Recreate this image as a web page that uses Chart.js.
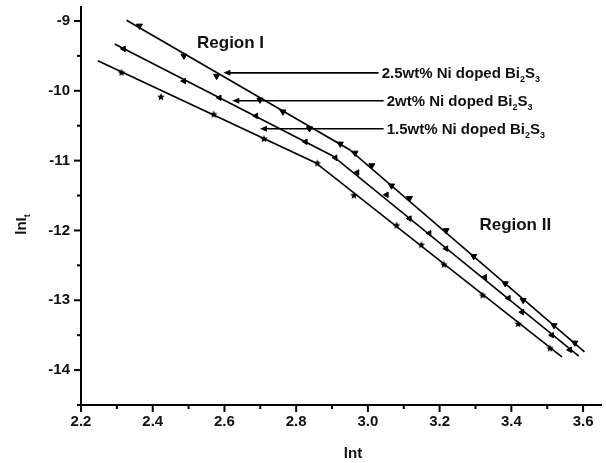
<!DOCTYPE html>
<html>
<head>
<meta charset="utf-8">
<script src="https://cdn.jsdelivr.net/npm/chart.js@4.4.1/dist/chart.umd.min.js"></script>
<style>
  html, body { margin: 0; padding: 0; background: #fff; }
  #wrap { position: relative; width: 606px; height: 463px; }
</style>
</head>
<body>
<div id="wrap"><canvas id="chart"></canvas></div>
<script>
// ── Data ─────────────────────────────────────────────────────
const seriesNames = ['2.5wt% Ni doped Bi2S3', '2wt% Ni doped Bi2S3', '1.5wt% Ni doped Bi2S3'];

// measured points
const x25 = [2.363, 2.487, 2.578, 2.699, 2.763, 2.837, 2.923, 2.964, 3.011, 3.066, 3.116, 3.218, 3.295, 3.383, 3.433, 3.519, 3.577];
const y25 = [-9.07, -9.50, -9.79, -10.13, -10.30, -10.54, -10.76, -10.89, -11.07, -11.36, -11.54, -12.00, -12.37, -12.76, -13.00, -13.36, -13.61];
const x20 = [2.319, 2.487, 2.586, 2.688, 2.826, 2.909, 2.970, 3.052, 3.116, 3.171, 3.218, 3.326, 3.392, 3.430, 3.513, 3.563];
const y20 = [-9.40, -9.86, -10.10, -10.36, -10.73, -10.96, -11.17, -11.49, -11.83, -12.04, -12.26, -12.67, -12.97, -13.17, -13.50, -13.71];
const x15 = [2.313, 2.423, 2.570, 2.710, 2.859, 2.961, 3.080, 3.149, 3.212, 3.320, 3.419, 3.508];
const y15 = [-9.74, -10.09, -10.34, -10.69, -11.04, -11.50, -11.93, -12.21, -12.49, -12.93, -13.34, -13.69];

// two-region linear fits (start, break, end)
const fit25x = [2.327, 2.948, 3.604];
const fit25y = [-8.99, -10.84, -13.74];
const fit20x = [2.294, 2.901, 3.588];
const fit20y = [-9.33, -10.93, -13.80];
const fit15x = [2.247, 2.854, 3.541];
const fit15y = [-9.57, -11.03, -13.81];

// axes
const xTicks = [2.2, 2.4, 2.6, 2.8, 3.0, 3.2, 3.4, 3.6];
const yTicks = [-14, -13, -12, -11, -10, -9];

// label arrows: [tip x, tail x, y] in data units
const arrows = [
  [2.597, 3.030, -9.743],
  [2.622, 3.044, -10.143],
  [2.699, 3.044, -10.543],
];
// [text, centre x, baseline y]
const regionLabels = [['Region I', 2.617, -9.39], ['Region II', 3.411, -12.0]];

const FONT = '"Liberation Sans", Arial, sans-serif';
const zip = (xs, ys) => xs.map((x, i) => ({ x, y: ys[i] }));

// filled 5-point star for the 1.5wt% series
function starCanvas(r) {
  const c = document.createElement('canvas');
  const s = Math.ceil(r * 2 + 2);
  c.width = s; c.height = s;
  const g = c.getContext('2d');
  g.beginPath();
  for (let i = 0; i < 10; i++) {
    const rad = i % 2 ? r * 0.45 : r;
    const a = -Math.PI / 2 + i * Math.PI / 5;
    g.lineTo(s / 2 + rad * Math.cos(a), s / 2 + rad * Math.sin(a));
  }
  g.closePath();
  g.fillStyle = '#000';
  g.fill();
  return c;
}

function fitSet(xs, ys) {
  return {
    type: 'line', data: zip(xs, ys), borderColor: '#000', borderWidth: 1.6,
    pointRadius: 0, fill: false, tension: 0,
  };
}
function markSet(xs, ys, style, rot, r) {
  return {
    type: 'scatter', data: zip(xs, ys), showLine: false,
    pointStyle: style, rotation: rot, pointRadius: r,
    backgroundColor: '#000', borderColor: '#000', borderWidth: 1,
  };
}

// text with chemical subscripts (digit right after a letter)
function drawRich(ctx, text, x, y, size) {
  const parts = text.split(/(?<=[A-Za-z])(\d)/);
  parts.forEach((p, i) => {
    if (!p) return;
    const sub = i % 2 === 1;
    ctx.font = `bold ${sub ? Math.round(size * 0.62) : size}px ${FONT}`;
    ctx.fillText(p, x, sub ? y + size * 0.3 : y);
    x += ctx.measureText(p).width;
  });
}

// ── Decorations: ticks, titles, annotations ──────────────────
const decor = {
  id: 'decor',
  afterDraw(chart) {
    const { ctx, scales: { x, y } } = chart;
    ctx.save();
    ctx.strokeStyle = '#000';
    ctx.fillStyle = '#111';
    ctx.lineWidth = 2;

    // x ticks (major + minor)
    const y0 = y.getPixelForValue(y.min);
    for (let i = 0; i < xTicks.length; i++) {
      const px = x.getPixelForValue(xTicks[i]);
      ctx.beginPath(); ctx.moveTo(px, y0); ctx.lineTo(px, y0 + 7); ctx.stroke();
      if (i < xTicks.length - 1) {
        const pm = x.getPixelForValue((xTicks[i] + xTicks[i + 1]) / 2);
        ctx.beginPath(); ctx.moveTo(pm, y0); ctx.lineTo(pm, y0 + 4); ctx.stroke();
      }
    }
    // y ticks (major + minor)
    const x0 = x.getPixelForValue(x.min);
    yTicks.forEach(v => {
      const py = y.getPixelForValue(v);
      ctx.beginPath(); ctx.moveTo(x0, py); ctx.lineTo(x0 - 7, py); ctx.stroke();
      const pm = y.getPixelForValue(v - 0.5);
      ctx.beginPath(); ctx.moveTo(x0, pm); ctx.lineTo(x0 - 4, pm); ctx.stroke();
    });

    // axis titles
    ctx.textBaseline = 'alphabetic';
    ctx.textAlign = 'center';
    ctx.font = `bold 15px ${FONT}`;
    ctx.fillText('lnt', 353, 458);
    ctx.save();
    ctx.translate(26, 223);
    ctx.rotate(-Math.PI / 2);
    ctx.textAlign = 'left';
    const w = ctx.measureText('lnI').width;
    ctx.fillText('lnI', -w / 2 - 3, 0);
    ctx.font = `bold 9px ${FONT}`;
    ctx.fillText('t', w / 2 - 3, 4);
    ctx.restore();

    // region labels
    ctx.font = `bold 17px ${FONT}`;
    regionLabels.forEach(([t, vx, vy]) => {
      ctx.fillText(t, x.getPixelForValue(vx), y.getPixelForValue(vy));
    });

    // arrows + series names
    ctx.lineWidth = 1.6;
    arrows.forEach(([tip, tail, vy], i) => {
      const px1 = x.getPixelForValue(tip);
      const px2 = x.getPixelForValue(tail);
      const py = y.getPixelForValue(vy);
      ctx.beginPath(); ctx.moveTo(px1 + 4, py); ctx.lineTo(px2, py); ctx.stroke();
      ctx.beginPath();
      ctx.moveTo(px1, py); ctx.lineTo(px1 + 7, py - 3); ctx.lineTo(px1 + 7, py + 3);
      ctx.closePath(); ctx.fillStyle = '#000'; ctx.fill();
      ctx.fillStyle = '#111';
      ctx.textAlign = 'left';
      drawRich(ctx, seriesNames[i], px2 + 3, py + 5, 15);
    });
    ctx.restore();
  }
};

const tickFont = { family: FONT, size: 15, weight: 'bold' };

new Chart(document.getElementById('chart'), {
  data: {
    datasets: [
      fitSet(fit25x, fit25y),
      fitSet(fit20x, fit20y),
      fitSet(fit15x, fit15y),
      markSet(x25, y25, 'triangle', 180, 3.5),
      markSet(x20, y20, 'triangle', -90, 3.2),
      markSet(x15, y15, starCanvas(4), 0, 4),
    ]
  },
  options: {
    responsive: true,
    maintainAspectRatio: false,
    animation: false,
    layout: { padding: { top: 7, right: 0, left: 0, bottom: 0 } },
    plugins: { legend: { display: false }, tooltip: { enabled: false } },
    scales: {
      x: {
        type: 'linear', min: 2.2, max: 3.65,
        afterBuildTicks: s => { s.ticks = xTicks.map(v => ({ value: v })); },
        afterFit: s => { s.height = 58; s.paddingLeft = 0; s.paddingRight = 0; },
        ticks: { callback: v => v.toFixed(1), font: tickFont, color: '#111', padding: 8, maxRotation: 0, autoSkip: false },
        grid: { display: false, drawTicks: false },
        border: { color: '#000', width: 2 },
      },
      y: {
        type: 'linear', min: -14.5, max: -8.8,
        afterBuildTicks: s => { s.ticks = yTicks.map(v => ({ value: v })); },
        afterFit: s => { s.width = 81; s.paddingTop = 0; s.paddingBottom = 0; },
        ticks: { callback: v => String(v), font: tickFont, color: '#111', padding: 11, autoSkip: false },
        grid: { display: false, drawTicks: false },
        border: { color: '#000', width: 2 },
      }
    }
  },
  plugins: [decor]
});
</script>
</body>
</html>
